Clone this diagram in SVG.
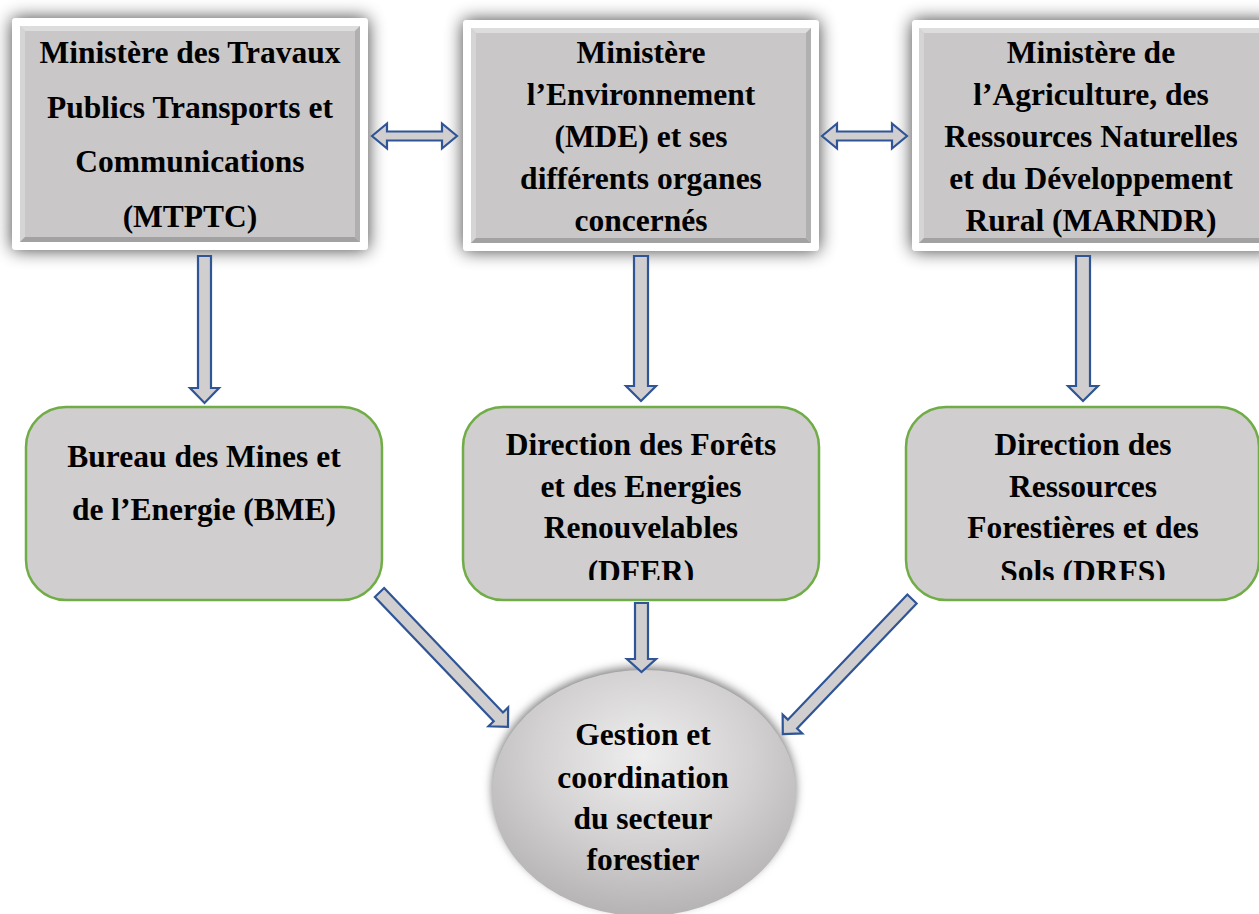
<svg xmlns="http://www.w3.org/2000/svg" width="1259" height="914" viewBox="0 0 1259 914">
<style>
.t{font-family:"Liberation Serif","Times New Roman",serif;font-weight:bold;font-size:31.5px;fill:#000;text-anchor:middle}
.frame{fill:#fff}
.inner{fill:#C9C7C8}
.lt{fill:#DEDDDD}
.lt2{fill:#D6D5D5}
.dk{fill:#A3A2A2}
.dk2{fill:#B1B0B0}
.gbox{fill:#D0CECE;stroke:#70AD47;stroke-width:2.5}
.arr{fill:#D0CECE;stroke:#2F5597;stroke-width:2.2;stroke-linejoin:miter}
</style>
<defs>
<filter id="sh" x="-25%" y="-25%" width="150%" height="150%">
<feGaussianBlur in="SourceAlpha" stdDeviation="9"/>
<feComponentTransfer><feFuncA type="linear" slope="0.75"/></feComponentTransfer>
<feMerge><feMergeNode/><feMergeNode in="SourceGraphic"/></feMerge>
</filter>
<filter id="esh" x="-20%" y="-20%" width="140%" height="140%">
<feGaussianBlur stdDeviation="5"/>
</filter>
<radialGradient id="eg" cx="50%" cy="35%" r="65%">
<stop offset="0" stop-color="#EFEEEE"/>
<stop offset="0.55" stop-color="#D3D1D1"/>
<stop offset="1" stop-color="#B5B3B3"/>
</radialGradient>
<clipPath id="cb"><rect x="440" y="400" width="819" height="180"/></clipPath>
</defs>

<g id="mtptc">
<rect class="frame" x="12" y="18" width="356" height="232" rx="4" filter="url(#sh)"/>
<rect class="inner" x="20" y="26" width="340" height="216"/>
<polygon class="lt" points="20,26 360,26 355,31 25,31"/>
<polygon class="lt2" points="20,26 25,31 25,237 20,242"/>
<polygon class="dk" points="20,242 25,237 355,237 360,242"/>
<polygon class="dk2" points="360,26 360,242 355,237 355,31"/>
<text class="t" x="190" y="63">Ministère des Travaux</text>
<text class="t" x="190" y="118">Publics Transports et</text>
<text class="t" x="190" y="172">Communications</text>
<text class="t" x="190" y="227">(MTPTC)</text>
</g>

<g id="mde">
<rect class="frame" x="463" y="20" width="356" height="231" rx="4" filter="url(#sh)"/>
<rect class="inner" x="471" y="28" width="340" height="215"/>
<polygon class="lt" points="471,28 811,28 806,33 476,33"/>
<polygon class="lt2" points="471,28 476,33 476,238 471,243"/>
<polygon class="dk" points="471,243 476,238 806,238 811,243"/>
<polygon class="dk2" points="811,28 811,243 806,238 806,33"/>
<text class="t" x="641" y="63">Ministère</text>
<text class="t" x="641" y="105">l’Environnement</text>
<text class="t" x="641" y="147">(MDE) et ses</text>
<text class="t" x="641" y="189">différents organes</text>
<text class="t" x="641" y="231">concernés</text>
</g>

<g id="marndr">
<rect class="frame" x="912" y="20" width="362" height="231" rx="4" filter="url(#sh)"/>
<rect class="inner" x="919" y="28" width="348" height="215"/>
<polygon class="lt" points="919,28 1267,28 1262,33 924,33"/>
<polygon class="lt2" points="919,28 924,33 924,238 919,243"/>
<polygon class="dk" points="919,243 924,238 1262,238 1267,243"/>
<text class="t" x="1091" y="63">Ministère de</text>
<text class="t" x="1091" y="105">l’Agriculture, des</text>
<text class="t" x="1091" y="147">Ressources Naturelles</text>
<text class="t" x="1091" y="189">et du Développement</text>
<text class="t" x="1091" y="231">Rural (MARNDR)</text>
</g>

<g id="bme">
<rect class="gbox" x="26" y="407" width="356" height="193" rx="40"/>
<text class="t" x="204" y="467">Bureau des Mines et</text>
<text class="t" x="204" y="520">de l’Energie (BME)</text>
</g>

<g id="dfer">
<rect class="gbox" x="463" y="407" width="356" height="193" rx="40"/>
<g clip-path="url(#cb)">
<text class="t" x="641" y="455">Direction des Forêts</text>
<text class="t" x="641" y="497">et des Energies</text>
<text class="t" x="641" y="538">Renouvelables</text>
<text class="t" x="641" y="582">(DFER)</text>
</g>
</g>

<g id="drfs">
<rect class="gbox" x="906" y="407" width="353" height="193" rx="40"/>
<g clip-path="url(#cb)">
<text class="t" x="1083" y="455">Direction des</text>
<text class="t" x="1083" y="497">Ressources</text>
<text class="t" x="1083" y="538">Forestières et des</text>
<text class="t" x="1083" y="582">Sols (DRFS)</text>
</g>
</g>

<g id="gestion">
<ellipse cx="644" cy="789" rx="152" ry="122" fill="#7F7E7E" filter="url(#esh)"/>
<ellipse cx="644" cy="793" rx="152" ry="123" fill="url(#eg)"/>
<text class="t" x="643" y="745">Gestion et</text>
<text class="t" x="643" y="788">coordination</text>
<text class="t" x="643" y="829">du secteur</text>
<text class="t" x="643" y="870">forestier</text>
</g>

<g id="connectors">
<polygon class="arr" points="372,136 387,123.5 387,131.5 442,131.5 442,123.5 457,136 442,148.5 442,140.5 387,140.5 387,148.5"/>
<polygon class="arr" points="822,136 837,123.5 837,131.5 892,131.5 892,123.5 907,136 892,148.5 892,140.5 837,140.5 837,148.5"/>
<polygon class="arr" points="198,256 211,256 211,388 219,388 204.5,403 190,388 198,388"/>
<polygon class="arr" points="634,256 648,256 648,386 656,386 641,401 626,386 634,386"/>
<polygon class="arr" points="1076,256 1090,256 1090,386 1098,386 1083,401 1068,386 1076,386"/>
<polygon class="arr" points="635,603 648,603 648,659 656,659 641.5,672 627,659 635,659"/>
<polygon class="arr" transform="translate(379.5,592.5) rotate(46.3)" points="0,-6.4 172,-6.4 172,-13.6 186,0 172,13.6 172,6.4 0,6.4"/>
<polygon class="arr" transform="translate(912,599) rotate(133.7)" points="0,-6.4 173,-6.4 173,-13.6 187,0 173,13.6 173,6.4 0,6.4"/>
</g>
</svg>
